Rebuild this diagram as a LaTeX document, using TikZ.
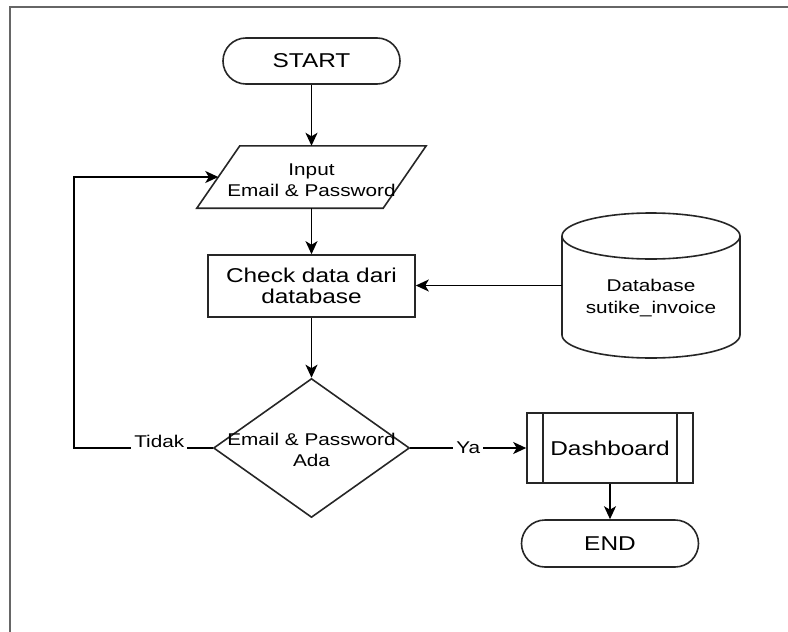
\documentclass[tikz,border=0pt]{standalone}
\usepackage{fontspec}
\setmainfont{Liberation Sans}
\usetikzlibrary{arrows.meta,shapes.geometric}
\newcommand\hs[1]{\scalebox{1.22}[1]{#1}}
\begin{document}
\begin{tikzpicture}[x=1pt,y=-1pt,
  box/.style={draw=black!85, line width=1.6pt},
  arr/.style={draw=black, line width=1.6pt, -{Stealth[length=13pt,width=12pt,inset=3.5pt]}},
  big/.style={font=\fontsize{20}{20.5}\selectfont},
  small/.style={font=\fontsize{17}{21.5}\selectfont},
  lbl/.style={fill=white, inner xsep=3pt, inner ysep=3.5pt, small},
  holder/.style={inner sep=0pt}
  ]
\useasboundingbox (0,0) rectangle (788,632);
\draw[black!60, line width=1.4pt] (10,632) -- (10,7) -- (788,7);

% START
\node[box, rounded corners=23pt, minimum width=177pt, minimum height=46pt, big] (start) at (311.5,61) {\hs{START}};

% Input parallelogram
\node[holder, minimum width=186pt, minimum height=62pt] (in) at (311.5,177) {};
\draw[box] ([xshift=21.5pt]in.north west) -- ([xshift=21.5pt]in.north east)
  -- ([xshift=-21.5pt]in.south east) -- ([xshift=-21.5pt]in.south west) -- cycle;
\node[small, align=center] (inT) at (311.5,180) {\hs{Input}\\\hs{Email \& Password}};

% Check box
\node[box, minimum width=207pt, minimum height=62pt, big, align=center] (chk) at (311.5,286) {\hs{Check data dari}\\\hs{database}};

% Database cylinder
\node[holder, minimum width=178pt, minimum height=145pt] (db) at (651,285.5) {};
\draw[box] (562,236) -- (562,335) arc[start angle=180, end angle=360, x radius=89pt, y radius=23pt] -- (740,236);
\draw[box] (651,236) ellipse [x radius=89pt, y radius=23pt];
\node[small, align=center] (dbT) at (651,298) {\hs{Database}\\\hs{sutike\_invoice}};

% Decision
\node[box, diamond, inner sep=0pt, minimum width=196pt, minimum height=139pt] (dec) at (311.5,448) {};
\node[small, align=center] (decT) at (311.5,450) {\hs{Email \& Password}\\\hs{Ada}};

% Dashboard
\node[box, minimum width=166pt, minimum height=70pt, big] (dash) at (610,448) {\hs{Dashboard}};
\draw[box] ([xshift=17pt]dash.north west) -- ([xshift=17pt]dash.south west);
\draw[box] ([xshift=-17pt]dash.north east) -- ([xshift=-17pt]dash.south east);

% END
\node[box, rounded corners=23.5pt, minimum width=177pt, minimum height=47pt, big] (end) at (610,543.5) {\hs{END}};

% connectors
\coordinate (lp) at (74,448);
\draw[arr] (start) -- (in);
\draw[arr] (in) -- (chk);
\draw[arr] (db.west) -- (db.west -| chk.east);
\draw[arr] (chk) -- (dec);
\draw[arr] (dec.east) -- node[lbl] {\hs{Ya}} (dash.west);
\draw[arr] (dec.west) -- node[lbl, pos=0.385, yshift=7pt] {\hs{Tidak}} (lp) |- (in.west);
\draw[arr] (dash) -- (end);
\end{tikzpicture}
\end{document}
